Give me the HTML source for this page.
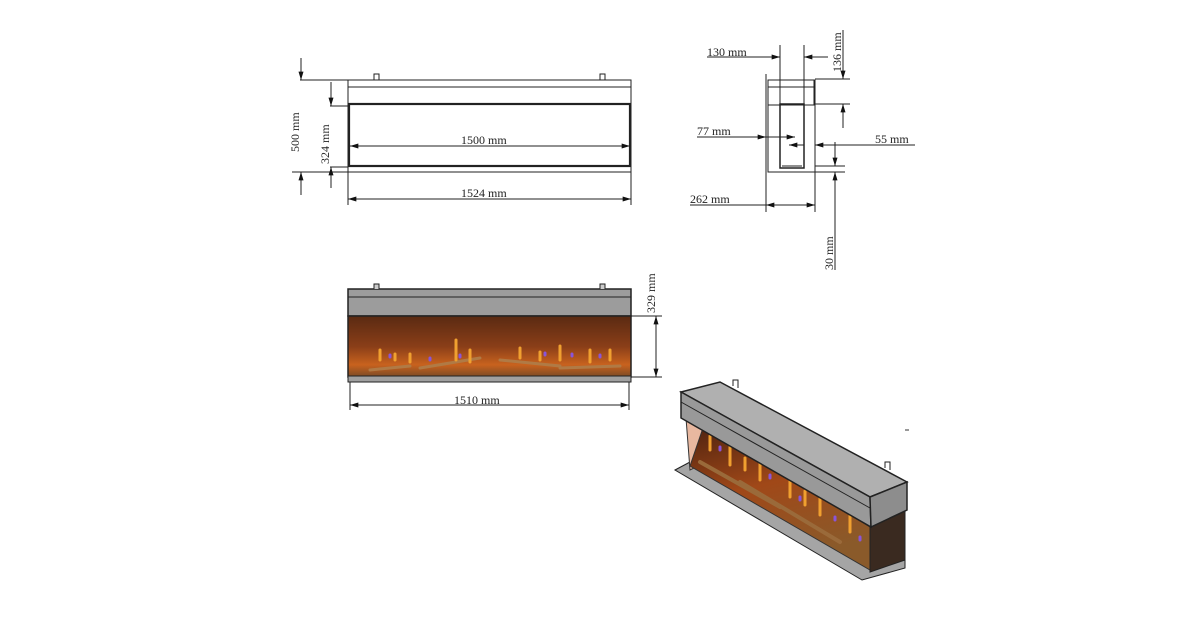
<!DOCTYPE html>
<html><head><meta charset="utf-8"><style>
body{margin:0;background:#fff;}
svg{display:block;font-family:"Liberation Serif",serif;}
text{font-size:12px;fill:#222;}
</style></head><body>
<svg width="1200" height="630" viewBox="0 0 1200 630">
<defs>
<marker id="a" viewBox="0 0 10 6" refX="10" refY="3" markerWidth="10" markerHeight="5" orient="auto-start-reverse"><path d="M0,0L10,3L0,6z" fill="#111"/></marker>
<linearGradient id="fire" x1="0" y1="0" x2="0" y2="1">
<stop offset="0" stop-color="#5a2a12"/><stop offset="0.5" stop-color="#8a3e18"/><stop offset="0.8" stop-color="#c8621e"/><stop offset="1" stop-color="#7a4a26"/></linearGradient>
<linearGradient id="fire2" x1="0" y1="0" x2="0.3" y2="1">
<stop offset="0" stop-color="#4a200f"/><stop offset="0.5" stop-color="#a04818"/><stop offset="1" stop-color="#8a5a2a"/></linearGradient>
</defs>
<g stroke="#222" fill="none" stroke-width="1">
<!-- top view -->
<rect x="348" y="80" width="283" height="92"/>
<line x1="348" y1="87" x2="631" y2="87"/>
<rect x="349" y="104" width="281" height="62" stroke-width="2.2"/>
<rect x="374" y="74" width="5" height="6"/><rect x="600" y="74" width="5" height="6"/>
<line x1="300" y1="80" x2="348" y2="80"/><line x1="292" y1="172" x2="348" y2="172"/>
<line x1="301" y1="58" x2="301" y2="80" marker-end="url(#a)"/><line x1="301" y1="195" x2="301" y2="172" marker-end="url(#a)"/>
<line x1="330" y1="106" x2="348" y2="106"/><line x1="330" y1="167" x2="348" y2="167"/>
<line x1="331" y1="82" x2="331" y2="106" marker-end="url(#a)"/><line x1="331" y1="188" x2="331" y2="167" marker-end="url(#a)"/>
<line x1="350" y1="146" x2="630" y2="146" marker-start="url(#a)" marker-end="url(#a)"/>
<line x1="348" y1="172" x2="348" y2="205"/><line x1="631" y1="172" x2="631" y2="205"/>
<line x1="348" y1="199" x2="631" y2="199" marker-start="url(#a)" marker-end="url(#a)"/>
<!-- side view -->
<line x1="766" y1="74" x2="766" y2="172"/>
<rect x="768" y="80" width="47" height="92"/>
<rect x="768" y="80" width="46" height="25"/>
<line x1="768" y1="87" x2="814" y2="87"/>
<rect x="780" y="104" width="24" height="64" stroke-width="1.5"/>
<line x1="782" y1="166" x2="802" y2="166"/>
<line x1="780" y1="45" x2="780" y2="104"/><line x1="804" y1="45" x2="804" y2="104"/>
<line x1="707" y1="57" x2="780" y2="57" marker-end="url(#a)"/><line x1="828" y1="57" x2="804" y2="57" marker-end="url(#a)"/>
<line x1="815" y1="79" x2="850" y2="79"/><line x1="815" y1="104" x2="850" y2="104"/>
<line x1="843" y1="30" x2="843" y2="79" marker-end="url(#a)"/><line x1="843" y1="128" x2="843" y2="104" marker-end="url(#a)"/>
<line x1="697" y1="137" x2="766" y2="137" marker-end="url(#a)"/><line x1="766" y1="137" x2="795" y2="137" marker-end="url(#a)"/>
<line x1="815" y1="137" x2="815" y2="172"/>
<line x1="789" y1="145" x2="804" y2="145" marker-start="url(#a)"/><line x1="915" y1="145" x2="815" y2="145" marker-end="url(#a)"/>
<line x1="815" y1="166" x2="845" y2="166"/><line x1="815" y1="172" x2="845" y2="172"/>
<line x1="835" y1="142" x2="835" y2="166" marker-end="url(#a)"/><line x1="835" y1="270" x2="835" y2="172" marker-end="url(#a)"/>
<line x1="766" y1="172" x2="766" y2="212"/><line x1="815" y1="172" x2="815" y2="212"/>
<line x1="690" y1="205" x2="766" y2="205"/>
<line x1="766" y1="205" x2="815" y2="205" marker-start="url(#a)" marker-end="url(#a)"/>
<!-- front view -->
<line x1="631" y1="316" x2="662" y2="316"/><line x1="631" y1="377" x2="662" y2="377"/>
<line x1="656" y1="316" x2="656" y2="377" marker-start="url(#a)" marker-end="url(#a)"/>
<line x1="350" y1="382" x2="350" y2="410"/><line x1="629" y1="382" x2="629" y2="410"/>
<line x1="350" y1="405" x2="629" y2="405" marker-start="url(#a)" marker-end="url(#a)"/>
</g>
<!-- front view body -->
<rect x="348" y="289" width="283" height="27" fill="#9c9c9c" stroke="#222" stroke-width="1.5"/>
<line x1="348" y1="297" x2="631" y2="297" stroke="#222"/>
<rect x="348" y="316" width="283" height="61" fill="url(#fire)" stroke="#222" stroke-width="1.5"/>
<rect x="348" y="376" width="283" height="6" fill="#a0a0a0" stroke="#222"/>
<path d="M374,289v-5h5v5M600,289v-5h5v5" stroke="#222" fill="#ccc"/>
<g stroke-width="3" stroke-linecap="round">
<path d="M370,370l40,-4M420,368l60,-10M500,360l60,6M560,368l60,-2" stroke="#b07a45"/>
<path d="M380,360v-10M410,362v-8M456,360v-20M470,362v-12M520,358v-10M560,360v-14M590,362v-12M610,360v-10M395,360v-6M540,360v-8" stroke="#f0a030"/>
<path d="M390,357v-2M430,360v-2M460,357v-2M545,355v-2M572,356v-2M600,357v-2" stroke="#8a55d8"/>
</g>
<!-- 3d view -->
<polygon points="675,470 690,462 870,565 905,557 905,568 862,580" fill="#a5a5a5" stroke="#222"/>
<polygon points="686,418 705,425 700,465 690,470" fill="#e8b8a0" stroke="#333"/>
<polygon points="705,422 870,527 870,570 690,466" fill="url(#fire2)" stroke="#333"/>
<polygon points="870,527 905,510 905,560 870,572" fill="#3a2a20" stroke="#222"/>
<g stroke-width="3" stroke-linecap="round">
<path d="M710,450v-14M730,465v-18M760,480v-20M790,497v-20M820,515v-18M850,532v-16M745,470v-12M805,505v-14" stroke="#f0a030"/>
<path d="M720,450v-3M770,478v-3M800,500v-3M835,520v-3M860,540v-3" stroke="#8a55d8"/>
<path d="M700,462l80,45M740,482l100,60" stroke="#9a6a3a" stroke-width="4"/>
</g>
<polygon points="681,392 720,382 907,482 870,497" fill="#b0b0b0" stroke="#222" stroke-width="1.5"/>
<polygon points="681,392 870,497 871,527 681,418" fill="#999" stroke="#222" stroke-width="1.5"/>
<polygon points="870,497 907,482 907,510 871,527" fill="#8d8d8d" stroke="#222" stroke-width="1.5"/>
<line x1="681" y1="402" x2="870" y2="508" stroke="#222"/>
<path d="M733,386v-6h5v8M885,468v-6h5v8" stroke="#222" fill="none"/>
<line x1="905" y1="430" x2="909" y2="430" stroke="#333"/>
<!-- labels -->
<text x="461" y="144">1500 mm</text>
<text x="461" y="197">1524 mm</text>
<text x="454" y="404">1510 mm</text>
<text transform="translate(299,152) rotate(-90)">500 mm</text>
<text transform="translate(329,164) rotate(-90)">324 mm</text>
<text transform="translate(655,313) rotate(-90)">329 mm</text>
<text x="707" y="56">130 mm</text>
<text transform="translate(841,72) rotate(-90)">136 mm</text>
<text x="697" y="135">77 mm</text>
<text x="875" y="143">55 mm</text>
<text x="690" y="203">262 mm</text>
<text transform="translate(833,270) rotate(-90)">30 mm</text>
</svg>
</body></html>
